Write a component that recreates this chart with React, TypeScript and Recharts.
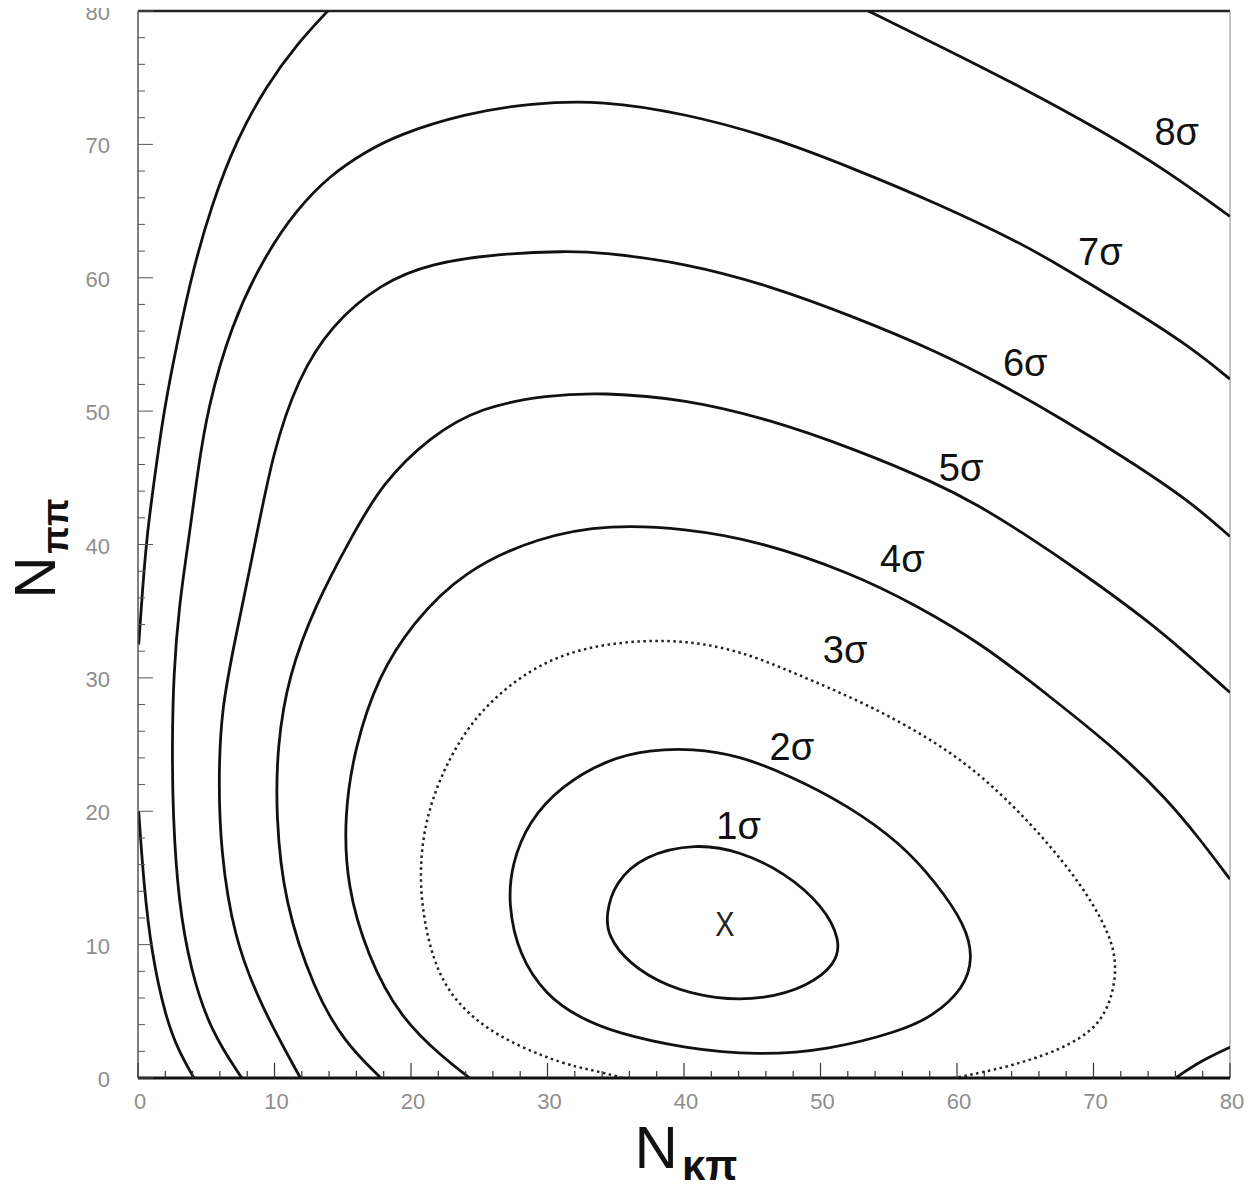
import React from "react";
import {
  ComposedChart,
  Line,
  Scatter,
  XAxis,
  YAxis,
  ReferenceLine,
} from "recharts";

// ---------- data (N_Kπ, N_ππ) ----------
const sigma1: [number, number][] = [
  [34.3, 12.3], [34.9, 14.6], [37.0, 16.7], [40.9, 17.6], [44.1, 17.0], [47.4, 15.4],
  [50.2, 12.9], [51.5, 10.3], [51.1, 8.5], [49.1, 6.9], [45.9, 5.9], [42.3, 5.9],
  [38.8, 6.8], [35.9, 8.6], [34.4, 10.7],
];
const sigma2: [number, number][] = [
  [27.1, 13.1], [27.4, 16.1], [28.6, 19.2], [31.0, 21.9], [34.4, 23.9], [37.5, 24.6],
  [40.6, 24.7], [44.0, 24.2], [47.9, 22.6], [51.9, 20.5], [55.9, 17.6], [58.5, 14.6],
  [60.6, 11.5], [61.2, 9.0], [60.5, 6.7], [58.2, 4.6], [55.8, 3.5], [50.6, 2.1],
  [45.4, 1.7], [40.1, 2.2], [34.9, 3.4], [32.2, 4.6], [29.9, 6.2], [27.9, 9.2],
];
const sigma3: [number, number][] = [
  [35.5, 0], [33.9, 0.45], [32.2, 0.8], [29.8, 1.55], [26.2, 3.2], [23.6, 5.3],
  [21.9, 7.9], [20.9, 11.8], [20.6, 15.7], [21.1, 19.6], [22.5, 23.5], [24.9, 27.5],
  [28.7, 30.7], [32.3, 32.2], [36.3, 32.8], [40.2, 32.8], [44.2, 32.0], [48.0, 30.4],
  [53.3, 28.1], [58.5, 25.2], [62.4, 22.2], [66.3, 18.1], [69.1, 14.5], [70.9, 11.4],
  [71.7, 9.0], [71.5, 6.4], [70.4, 3.8], [67.6, 2.1], [63.7, 0.8], [59.8, 0],
];
const sigma4: [number, number][] = [
  [24.3, 0], [22.5, 1.4], [19.2, 4.5], [16.8, 9.2], [15.3, 14.4], [15.1, 19.7],
  [15.9, 24.9], [17.6, 30.1], [20.1, 34.1], [23.8, 38.0], [29.4, 40.6], [34.6, 41.5],
  [40.1, 41.2], [45.3, 40.3], [52.2, 37.9], [57.1, 35.4], [61.9, 32.5], [66.8, 28.6],
  [71.7, 24.6], [75.4, 20.9], [77.8, 17.9], [80, 14.9],
];
const sigma5: [number, number][] = [
  [17.8, 0], [15.1, 2.7], [12.9, 6.6], [10.7, 13.2], [10.1, 19.7], [10.2, 24.9],
  [11.0, 30.1], [13.0, 35.5], [15.6, 40.5], [17.9, 44.6], [21.4, 48.1], [25.1, 50.3],
  [30.0, 51.2], [34.0, 51.4], [40.1, 50.9], [46.2, 49.4], [52.4, 47.2], [58.5, 44.6],
  [61.6, 42.9], [64.5, 41.1], [69.3, 37.8], [74.2, 34.1], [76.6, 32.0], [80, 28.9],
];
const sigma6: [number, number][] = [
  [11.9, 0], [9.0, 5.4], [7.0, 10.6], [6.05, 17.1], [5.9, 22.4], [6.1, 27.6],
  [7.1, 32.8], [8.6, 40.2], [9.9, 47.0], [11.7, 52.4], [14.1, 56.4], [17.8, 59.6],
  [21.5, 61.1], [26.4, 61.8], [31.3, 62.0], [34.0, 61.9], [40.1, 61.1], [46.3, 59.4],
  [52.4, 57.1], [58.5, 54.5], [63.1, 52.1], [67.7, 49.4], [72.3, 46.5], [77.0, 43.3],
  [80, 40.6],
];
const sigma7: [number, number][] = [
  [7.6, 0], [5.3, 3.56], [3.85, 8.1], [2.95, 13.3], [2.55, 19.8], [2.5, 25.0],
  [2.6, 30.2], [3.0, 35.4], [3.75, 40.6], [4.35, 45.3], [5.07, 50.1], [6.8, 56.4],
  [9.2, 61.5], [11.6, 65.1], [14.1, 67.7], [16.6, 69.4], [19.0, 70.7], [23.9, 72.3],
  [28.8, 73.1], [34.0, 73.3], [40.1, 72.3], [46.3, 70.6], [52.4, 68.2], [58.5, 65.6],
  [64.7, 62.6], [67.7, 60.8], [72.4, 57.9], [77.0, 54.9], [80, 52.4],
];
const sigma8Right: [number, number][] = [
  [53.5, 80], [58.5, 77.5], [64.7, 74.3], [70.8, 70.9], [75.4, 68.0], [80, 64.6],
];
const sigma8LeftUpper: [number, number][] = [
  [13.9, 80], [11.7, 77.6], [9.4, 74.4], [7.2, 70.3], [5.4, 65.5], [4.0, 60.5],
  [2.9, 55.3], [1.9, 50.1], [1.2, 44.9], [0.65, 40.7], [0.3, 36.2], [0.05, 32.5],
];
const sigma8LeftLower: [number, number][] = [
  [0.05, 20], [0.42, 14.55], [0.99, 9.37], [2.0, 4.64], [2.94, 2.08], [4.1, 0],
];
const cornerPiece: [number, number][] = [
  [76.0, 0], [77.9, 1.3], [80, 2.3],
];

const sigmaLabels = ["1σ", "2σ", "3σ", "4σ", "5σ", "6σ", "7σ", "8σ"];
const sigmaLabelX = [44.0, 47.9, 51.8, 56.0, 60.3, 65.0, 70.5, 76.1];
const sigmaLabelY = [18.9, 24.8, 32.1, 38.9, 45.7, 53.6, 61.9, 70.9];

const bestFit: [number, number] = [43.0, 11.6];

const axisTicks = [
  0, 2, 4, 6, 8, 10, 12, 14, 16, 18, 20, 22, 24, 26, 28, 30, 32, 34, 36, 38, 40,
  42, 44, 46, 48, 50, 52, 54, 56, 58, 60, 62, 64, 66, 68, 70, 72, 74, 76, 78, 80,
];

// ---------- helpers ----------
const toPts = (arr: [number, number][]) => arr.map(([x, y]) => ({ x, y }));

const TICK_FONT = "'Liberation Sans', Arial, sans-serif";

const XTick = (p: any) => {
  const v = p.payload.value;
  const major = v % 10 === 0;
  return (
    <g>
      <line x1={p.x} x2={p.x} y1={p.y} y2={p.y - (major ? 15 : 7)} stroke="#333" strokeWidth={1.2} />
      {major && (
        <text x={p.x + 2} y={p.y + 31} textAnchor="middle" fontSize={22} fill="#8e8e8e" fontFamily={TICK_FONT}>
          {v}
        </text>
      )}
    </g>
  );
};

const YTick = (p: any) => {
  const v = p.payload.value;
  const major = v % 10 === 0;
  return (
    <g>
      <line x1={p.x} x2={p.x + (major ? 15 : 7)} y1={p.y} y2={p.y} stroke="#555" strokeWidth={1} />
      {major && (
        <text x={p.x - 28} y={p.y + 9} textAnchor="end" fontSize={22} fill="#8e8e8e" fontFamily={TICK_FONT}>
          {v}
        </text>
      )}
    </g>
  );
};

const XTitle = (props: any) => {
  const vb = props.viewBox;
  const cx = vb.x + vb.width / 2 + 2;
  const by = vb.y + 90;
  return (
    <text x={cx} y={by} textAnchor="middle" fontFamily={TICK_FONT} fill="#111">
      <tspan fontSize={60}>N</tspan>
      <tspan fontSize={42} fontWeight="bold" dy={12} dx={4}>κπ</tspan>
    </text>
  );
};

const YTitle = (props: any) => {
  const vb = props.viewBox;
  const bx = vb.x + 55;
  const cy = vb.y + vb.height / 2 + 4;
  return (
    <text
      x={bx}
      y={cy}
      transform={`rotate(-90 ${bx} ${cy})`}
      textAnchor="middle"
      fontFamily={TICK_FONT}
      fill="#111"
    >
      <tspan fontSize={58}>N</tspan>
      <tspan fontSize={36} fontWeight="bold" dy={13} dx={3}>ππ</tspan>
    </text>
  );
};

const labelData = sigmaLabels.map((t, i) => ({ x: sigmaLabelX[i], y: sigmaLabelY[i], text: t }));
const markerData = [{ x: bestFit[0], y: bestFit[1], text: "X" }];

const TextShape = (props: any) => (
  <text
    x={props.cx}
    y={props.cy + 13}
    textAnchor="middle"
    fontSize={38}
    fontFamily={TICK_FONT}
    fill="#111"
  >
    {props.payload.text}
  </text>
);

const MarkerShape = (props: any) => (
  <text
    x={props.cx}
    y={props.cy + 13}
    textAnchor="middle"
    fontSize={36}
    fontFamily={TICK_FONT}
    fill="#222"
    transform={`translate(${props.cx} 0) scale(0.8 1) translate(${-props.cx} 0)`}
  >
    {props.payload.text}
  </text>
);

const solidCurves: { name: string; pts: [number, number][]; closed: boolean }[] = [
  { name: "1σ", pts: sigma1, closed: true },
  { name: "2σ", pts: sigma2, closed: true },
  { name: "4σ", pts: sigma4, closed: false },
  { name: "5σ", pts: sigma5, closed: false },
  { name: "6σ", pts: sigma6, closed: false },
  { name: "7σ", pts: sigma7, closed: false },
  { name: "8σ-r", pts: sigma8Right, closed: false },
  { name: "8σ-lu", pts: sigma8LeftUpper, closed: false },
  { name: "8σ-ll", pts: sigma8LeftLower, closed: false },
  { name: "corner", pts: cornerPiece, closed: false },
];

export default function App() {
  return (
    <div style={{ width: 1256, height: 1190, marginLeft: -8, marginTop: -8, background: "#fff" }}>
      <ComposedChart
        width={1256}
        height={1190}
        margin={{ top: 11, right: 26, left: 0, bottom: 0 }}
      >
        <XAxis
          type="number"
          dataKey="x"
          domain={[0, 80]}
          ticks={axisTicks}
          interval={0}
          allowDataOverflow
          height={112}
          tickLine={false}
          tickSize={0}
          tickMargin={0}
          tick={<XTick />}
          axisLine={{ stroke: "#111", strokeWidth: 3 }}
          label={<XTitle />}
        />
        <YAxis
          type="number"
          dataKey="y"
          domain={[0, 80]}
          ticks={axisTicks}
          interval={0}
          allowDataOverflow
          width={138}
          tickLine={false}
          tickSize={0}
          tickMargin={0}
          tick={<YTick />}
          axisLine={{ stroke: "#555", strokeWidth: 1.5 }}
          label={<YTitle />}
        />
        <ReferenceLine y={80} stroke="#222" strokeWidth={2.5} />
        <ReferenceLine x={80} stroke="#888" strokeWidth={1} />
        {solidCurves.map((c) => (
          <Line
            key={c.name}
            data={toPts(c.pts)}
            dataKey="y"
            type={c.closed ? "basisClosed" : "basis"}
            stroke="#111"
            strokeWidth={2.8}
            dot={false}
            activeDot={false}
            isAnimationActive={false}
          />
        ))}
        <Line
          data={toPts(sigma3)}
          dataKey="y"
          type="basis"
          stroke="#222"
          strokeWidth={2.5}
          strokeDasharray="2.5 3.5"
          dot={false}
          activeDot={false}
          isAnimationActive={false}
        />
        <Scatter data={labelData} dataKey="y" shape={<TextShape />} isAnimationActive={false} />
        <Scatter data={markerData} dataKey="y" shape={<MarkerShape />} isAnimationActive={false} />
      </ComposedChart>
    </div>
  );
}
